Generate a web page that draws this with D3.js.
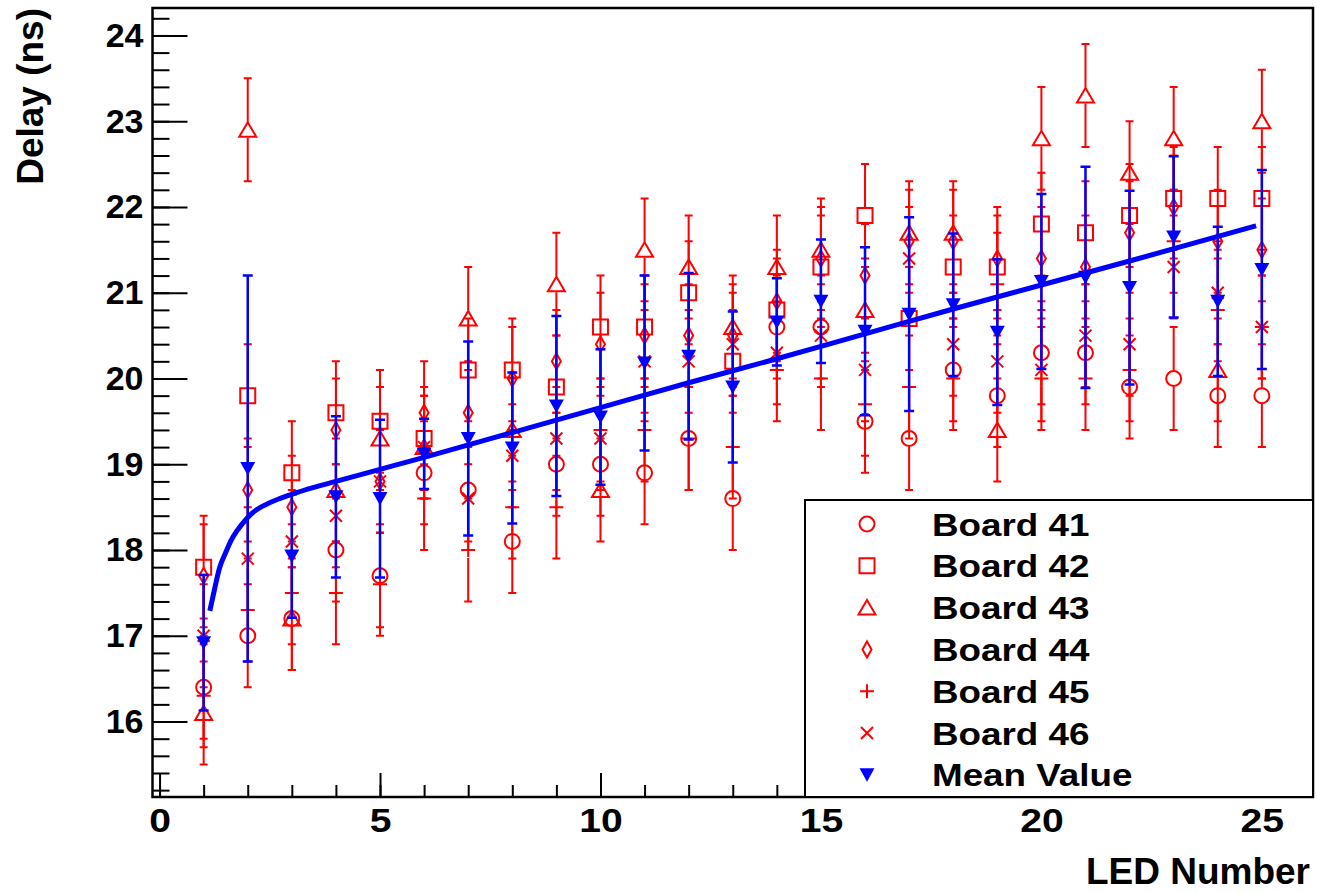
<!DOCTYPE html>
<html>
<head>
<meta charset="utf-8">
<script src="https://cdn.jsdelivr.net/npm/d3@7/dist/d3.min.js"></script>
<style>
  body { margin: 0; background: #fff; }
  svg text { font-family: "Liberation Sans", Arial, Helvetica, sans-serif; font-weight: bold; fill: #000; }
</style>
</head>
<body>
<div id="chart"></div>
<script>
// LED numbers on the x axis
const leds = [1, 2, 3, 4, 5, 6, 7, 8, 9, 10, 11, 12, 13, 14, 15, 16, 17, 18, 19, 20, 21, 22, 23, 24, 25]

// delay per board (ns)
const board41 = [16.4, 17.0, 17.2, 18.0, 17.7, 18.9, 18.7, 18.1, 19.0, 19.0, 18.9, 19.3, 18.6, 20.6, 20.6, 19.5, 19.3, 20.1, 19.8, 20.3, 20.3, 19.9, 20.0, 19.8, 19.8]
const board42 = [17.8, 19.8, 18.9, 19.6, 19.5, 19.3, 20.1, 20.1, 19.9, 20.6, 20.6, 21.0, 20.2, 20.8, 21.3, 21.9, 20.7, 21.3, 21.3, 21.8, 21.7, 21.9, 22.1, 22.1, 22.1]
const board43 = [16.1, 22.9, 17.2, 18.7, 19.3, 19.2, 20.7, 19.4, 21.1, 18.7, 21.5, 21.3, 20.6, 21.3, 21.5, 20.8, 21.7, 21.7, 19.4, 22.8, 23.3, 22.4, 22.8, 20.1, 23.0]
const board44 = [17.7, 18.7, 18.5, 19.4, 18.8, 19.6, 19.6, 20.0, 20.2, 20.4, 20.5, 20.5, 20.5, 20.9, 21.4, 21.2, 21.6, 21.6, 21.4, 21.4, 21.3, 21.7, 22.0, 21.6, 21.5]
const board45 = [16.3, 17.3, 17.5, 17.5, 17.6, 18.6, 18.0, 18.5, 18.5, 19.4, 19.4, 19.3, 19.2, 20.1, 20.0, 19.7, 19.9, 20.0, 21.1, 20.0, 20.0, 20.1, 21.6, 20.8, 20.6]
const board46 = [17.0, 17.9, 18.1, 18.4, 18.8, 19.2, 18.6, 19.1, 19.3, 19.3, 20.2, 20.2, 20.4, 20.3, 20.5, 20.1, 21.4, 20.4, 20.2, 20.1, 20.5, 20.4, 21.3, 21.0, 20.6]
const boardErr = 0.6

// mean over the boards and its spread
const meanVals = [16.92, 18.95, 17.93, 18.62, 18.6, 19.12, 19.3, 19.19, 19.68, 19.55, 20.18, 20.26, 19.9, 20.66, 20.9, 20.55, 20.75, 20.86, 20.54, 21.13, 21.18, 21.06, 21.65, 20.9, 21.27]
const meanErr = [0.79, 2.25, 0.72, 0.94, 0.92, 0.41, 1.13, 0.88, 1.05, 0.79, 1.02, 0.97, 0.88, 0.51, 0.72, 0.98, 1.13, 0.83, 0.85, 1.02, 1.29, 1.13, 0.94, 0.87, 1.16]

// fitted curve, points
const fitX = [1.14, 1.25, 1.36, 1.5, 1.62, 1.75, 1.9, 2.0, 2.2, 2.45, 2.7, 3.0, 3.5, 4, 5, 6, 8, 10, 12, 14, 16, 18, 20, 22, 24.87]
const fitY = [17.29, 17.55, 17.79, 17.97, 18.11, 18.22, 18.32, 18.38, 18.47, 18.54, 18.595, 18.65, 18.73, 18.8, 18.94, 19.08, 19.37, 19.66, 19.95, 20.23, 20.52, 20.81, 21.09, 21.37, 21.78]

const xTicks = [0, 5, 10, 15, 20, 25]
const yTicks = [16, 17, 18, 19, 20, 21, 22, 23, 24]
const legendLabels = ['Board 41', 'Board 42', 'Board 43', 'Board 44', 'Board 45', 'Board 46', 'Mean Value']

const config = {
    width: 1317,
    height: 893,
    frame: { left: 152.5, right: 1313, top: 8, bottom: 797 }
}
const { width, height, frame } = config

// marker shapes, centred on 0,0
const markers = {
    circle: 'M7.5,0A7.5,7.5 0 1,1 -7.5,0A7.5,7.5 0 1,1 7.5,0Z',
    square: 'M-7.5,-7.5H7.5V7.5H-7.5Z',
    triangle: 'M0,-7.5L8.5,7L-8.5,7Z',
    diamond: 'M0,-8L4.5,0L0,8L-4.5,0Z',
    plus: 'M-7,0H7M0,-7V7',
    cross: 'M-6,-6L6,6M-6,6L6,-6',
    triangleDown: 'M-7.5,-6.5H7.5L0,7Z'
}

const boards = [
    { name: legendLabels[0], values: board41, shape: 'circle' },
    { name: legendLabels[1], values: board42, shape: 'square' },
    { name: legendLabels[2], values: board43, shape: 'triangle' },
    { name: legendLabels[3], values: board44, shape: 'diamond' },
    { name: legendLabels[4], values: board45, shape: 'plus' },
    { name: legendLabels[5], values: board46, shape: 'cross' }
]

const x = d3.scaleLinear().domain([-0.16, 26.16]).range([frame.left, frame.right])
const y = d3.scaleLinear().domain([15.12, 24.32]).range([frame.bottom, frame.top])

const svg = d3.select('#chart').append('svg')
    .attr('width', width)
    .attr('height', height)

svg.append('rect').attr('width', width).attr('height', height).attr('fill', '#fff')

// axes: ticks point inside the frame
const yMinor = d3.range(76, 122).map(d => d / 5)
const xMinor = d3.range(0, 27)

const styleAxis = g => {
    g.select('.domain').remove()
    g.selectAll('line').attr('stroke', '#000').attr('stroke-width', 2)
}

svg.append('g')
    .attr('transform', 'translate(' + frame.left + ',0)')
    .call(d3.axisLeft(y).tickValues(yMinor).tickSizeInner(-17).tickSizeOuter(0).tickFormat(''))
    .call(styleAxis)

svg.append('g')
    .attr('transform', 'translate(' + frame.left + ',0)')
    .call(d3.axisLeft(y).tickValues(yTicks).tickSizeInner(-35).tickSizeOuter(0).tickPadding(9))
    .call(styleAxis)
    .call(g => g.selectAll('text').attr('font-size', 34).attr('font-family', null))

svg.append('g')
    .attr('transform', 'translate(0,' + frame.bottom + ')')
    .call(d3.axisBottom(x).tickValues(xMinor).tickSizeInner(-12).tickSizeOuter(0).tickFormat(''))
    .call(styleAxis)

// x labels look a little wider in the original, stretch them
svg.append('g')
    .attr('transform', 'translate(0,' + frame.bottom + ')')
    .call(d3.axisBottom(x).tickValues(xTicks).tickSizeInner(-24).tickSizeOuter(0).tickPadding(11))
    .call(styleAxis)
    .call(g => g.selectAll('text')
        .attr('font-size', 34)
        .attr('font-family', null)
        .attr('transform', 'scale(1.15,1)'))

const plot = svg.append('g')

// board points with their error bars
const gap = 8
boards.forEach(b => {
    const pts = leds.map((led, i) => ({ led: led, v: b.values[i] }))
    const g = plot.append('g').attr('class', 'board')
    g.selectAll('path.err')
        .data(pts)
        .enter()
        .append('path')
        .attr('class', 'err')
        .attr('d', d => {
            const cx = x(d.led), cy = y(d.v)
            const top = y(d.v + boardErr), bot = y(d.v - boardErr)
            return 'M' + cx + ',' + (cy - gap) + 'V' + top + 'M' + (cx - 4) + ',' + top + 'H' + (cx + 4) +
                'M' + cx + ',' + (cy + gap) + 'V' + bot + 'M' + (cx - 4) + ',' + bot + 'H' + (cx + 4)
        })
        .attr('fill', 'none')
        .attr('stroke', '#ff0000')
        .attr('stroke-width', 2)
    g.selectAll('path.mk')
        .data(pts)
        .enter()
        .append('path')
        .attr('class', 'mk')
        .attr('transform', d => 'translate(' + x(d.led) + ',' + y(d.v) + ')')
        .attr('d', markers[b.shape])
        .attr('fill', 'none')
        .attr('stroke', '#ff0000')
        .attr('stroke-width', 2)
})

// mean value
const meanPts = leds.map((led, i) => ({ led: led, v: meanVals[i], e: meanErr[i] }))
plot.append('g')
    .selectAll('path')
    .data(meanPts)
    .enter()
    .append('path')
    .attr('d', d => {
        const cx = x(d.led), top = y(d.v + d.e), bot = y(d.v - d.e)
        return 'M' + cx + ',' + top + 'V' + bot + 'M' + (cx - 5) + ',' + top + 'H' + (cx + 5) +
            'M' + (cx - 5) + ',' + bot + 'H' + (cx + 5)
    })
    .attr('fill', 'none')
    .attr('stroke', '#0000ff')
    .attr('stroke-width', 2.5)

plot.append('g')
    .selectAll('path')
    .data(meanPts)
    .enter()
    .append('path')
    .attr('transform', d => 'translate(' + x(d.led) + ',' + y(d.v) + ')')
    .attr('d', markers.triangleDown)
    .attr('fill', '#0000ff')

// fit
const fitLine = d3.line()
    .x(d => x(d[0]))
    .y(d => y(d[1]))
    .curve(d3.curveMonotoneX)

plot.append('path')
    .datum(fitX.map((v, i) => [v, fitY[i]]))
    .attr('d', fitLine)
    .attr('fill', 'none')
    .attr('stroke', '#0000ff')
    .attr('stroke-width', 5)

// frame
svg.append('rect')
    .attr('x', frame.left)
    .attr('y', frame.top)
    .attr('width', frame.right - frame.left)
    .attr('height', frame.bottom - frame.top)
    .attr('fill', 'none')
    .attr('stroke', '#000')
    .attr('stroke-width', 2.5)

// axis titles
svg.append('text')
    .attr('transform', 'translate(43,8) rotate(-90)')
    .attr('text-anchor', 'end')
    .attr('font-size', 37)
    .text('Delay (ns)')

svg.append('text')
    .attr('x', 1310)
    .attr('y', 884)
    .attr('text-anchor', 'end')
    .attr('font-size', 37)
    .text('LED Number')

// legend
const legend = svg.append('g')
legend.append('rect')
    .attr('x', 805)
    .attr('y', 500)
    .attr('width', frame.right - 805)
    .attr('height', frame.bottom - 500)
    .attr('fill', '#fff')
    .attr('stroke', '#000')
    .attr('stroke-width', 2)

const legendItems = boards.map(b => ({ name: b.name, shape: b.shape, color: '#ff0000', filled: false }))
legendItems.push({ name: legendLabels[6], shape: 'triangleDown', color: '#0000ff', filled: true })

const rows = legend.selectAll('g.row')
    .data(legendItems)
    .enter()
    .append('g')
    .attr('class', 'row')
    .attr('transform', (d, i) => 'translate(0,' + (524 + i * 41.8) + ')')

rows.append('path')
    .attr('transform', 'translate(867,0)')
    .attr('d', d => markers[d.shape])
    .attr('fill', d => d.filled ? d.color : 'none')
    .attr('stroke', d => d.filled ? 'none' : d.color)
    .attr('stroke-width', 2)

rows.append('text')
    .attr('transform', 'translate(932,0) scale(1.15,1)')
    .attr('dy', '0.36em')
    .attr('font-size', 32)
    .text(d => d.name)
</script>
</body>
</html>
